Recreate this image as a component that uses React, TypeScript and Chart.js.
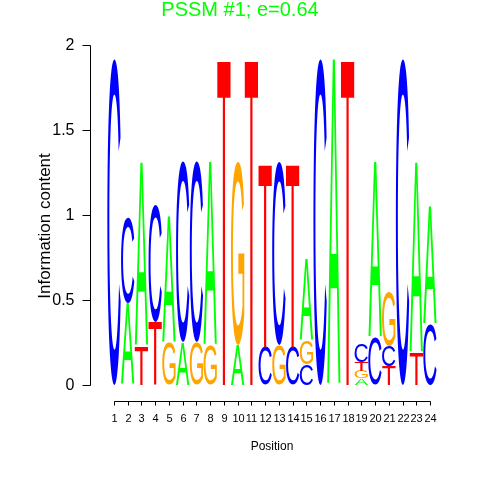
import React, { useEffect, useRef } from "react";
import { Chart, registerables } from "chart.js";

Chart.register(...registerables);

const TITLE = "PSSM #1; e=0.64";
const X_TITLE = "Position";
const Y_TITLE = "Information content";
const POSITIONS = ["1","2","3","4","5","6","7","8","9","10","11","12","13","14","15","16","17","18","19","20","21","22","23","24"];
const LETTERS = ["A", "C", "G", "T"];
const LETTER_COLORS: Record<string, string> = { A: "#00FF00", C: "#0000FF", G: "#FFA500", T: "#FF0000" };

// information content (bits) of each letter at each position
const A_BITS = [0, 0.48, 1.08, 0, 0.74, 0.25, 0, 1.08, 0, 0.235, 0, 0, 0, 0, 0.48, 0, 1.92, 0, 0.04, 1.03, 0, 0, 1.12, 0.69];
const C_BITS = [1.92, 0.5, 0, 0.69, 0, 1.06, 1.06, 0, 0, 0, 0, 0.22, 1.08, 0.22, 0.12, 1.92, 0, 0, 0.105, 0.28, 0.12, 1.92, 0, 0.36];
const G_BITS = [0, 0, 0, 0, 0.25, 0, 0.25, 0.235, 0, 1.08, 0, 0, 0.235, 0, 0.14, 0, 0, 0, 0.045, 0, 0.32, 0, 0, 0];
const T_BITS = [0, 0, 0.23, 0.37, 0, 0, 0, 0, 1.92, 0, 1.92, 1.08, 0, 1.08, 0, 0, 0, 1.92, 0.05, 0, 0.11, 0, 0.19, 0];

const Y_TICKS = [0, 0.5, 1, 1.5, 2];
const Y_TICK_LABELS = ["0", "0.5", "1", "1.5", "2"];

const FONT = "'Liberation Sans', Arial, Helvetica, sans-serif";

const BITS: Record<string, number[]> = { A: A_BITS, C: C_BITS, G: G_BITS, T: T_BITS };

const glyphCache: Record<string, { l: number; r: number; a: number; d: number }> = {};

function drawGlyph(ctx: CanvasRenderingContext2D, letter: string, x: number, y: number, w: number, h: number, color: string) {
  ctx.save();
  ctx.font = "200px " + FONT;
  let g = glyphCache[letter];
  if (!g) {
    const m = ctx.measureText(letter);
    g = { l: m.actualBoundingBoxLeft, r: m.actualBoundingBoxRight, a: m.actualBoundingBoxAscent, d: m.actualBoundingBoxDescent };
    glyphCache[letter] = g;
  }
  const gw = g.l + g.r;
  const gh = g.a + g.d;
  ctx.translate(x, y);
  ctx.scale(w / gw, h / gh);
  ctx.fillStyle = color;
  ctx.textAlign = "left";
  ctx.textBaseline = "alphabetic";
  ctx.fillText(letter, g.l, g.a);
  ctx.restore();
}

const logoPlugin = {
  id: "logoPlugin",
  afterDatasetsDraw(chart: any) {
    const ctx: CanvasRenderingContext2D = chart.ctx;
    chart.data.datasets.forEach((ds: any, di: number) => {
      const meta = chart.getDatasetMeta(di);
      meta.data.forEach((el: any, i: number) => {
        const v = ds.data[i];
        if (!v) return;
        const p = el.getProps(["x", "y", "base", "width"], true);
        const top = Math.min(p.y, p.base);
        const bottom = Math.max(p.y, p.base);
        const letter = ds.letters[i];
        drawGlyph(ctx, letter, p.x - p.width / 2, top, p.width, bottom - top, LETTER_COLORS[letter]);
      });
    });
  },
  afterDraw(chart: any) {
    const ctx: CanvasRenderingContext2D = chart.ctx;
    const xs = chart.scales.x;
    const ys = chart.scales.y;
    const area = chart.chartArea;
    ctx.save();
    ctx.strokeStyle = "#000000";
    ctx.fillStyle = "#000000";
    ctx.lineWidth = 1;

    // Y axis
    const yAxisX = Math.round(area.left - 17) + 0.5;
    const y0 = ys.getPixelForValue(Y_TICKS[0]);
    const y1 = ys.getPixelForValue(Y_TICKS[Y_TICKS.length - 1]);
    ctx.beginPath();
    ctx.moveTo(yAxisX, Math.round(y0) + 0.5);
    ctx.lineTo(yAxisX, Math.round(y1) + 0.5);
    ctx.stroke();
    ctx.font = "16px " + FONT;
    ctx.textAlign = "right";
    ctx.textBaseline = "middle";
    Y_TICKS.forEach((t, i) => {
      const py = Math.round(ys.getPixelForValue(t)) + 0.5;
      ctx.beginPath();
      ctx.moveTo(yAxisX - 8, py);
      ctx.lineTo(yAxisX, py);
      ctx.stroke();
      ctx.fillText(Y_TICK_LABELS[i], yAxisX - 16, py + 0.5);
    });

    // X axis
    const xAxisY = Math.round(area.bottom + 16) + 0.5;
    const xFirst = xs.getPixelForValue(0);
    const xLast = xs.getPixelForValue(POSITIONS.length - 1);
    ctx.beginPath();
    ctx.moveTo(Math.round(xFirst) + 0.5, xAxisY);
    ctx.lineTo(Math.round(xLast) + 0.5, xAxisY);
    ctx.stroke();
    ctx.font = "11px " + FONT;
    ctx.textAlign = "center";
    ctx.textBaseline = "middle";
    POSITIONS.forEach((lab, i) => {
      const px = Math.round(xs.getPixelForValue(i)) + 0.5;
      ctx.beginPath();
      ctx.moveTo(px, xAxisY);
      ctx.lineTo(px, xAxisY + 4);
      ctx.stroke();
      ctx.fillText(lab, px, xAxisY + 17);
    });

    // axis titles
    ctx.font = "12px " + FONT;
    ctx.fillText(X_TITLE, (xFirst + xLast) / 2, area.bottom + 62);
    ctx.save();
    ctx.font = "17px " + FONT;
    ctx.translate(50, 226);
    ctx.rotate(-Math.PI / 2);
    ctx.textAlign = "center";
    ctx.textBaseline = "alphabetic";
    ctx.fillText(Y_TITLE, 0, 0);
    ctx.restore();

    // main title
    ctx.font = "20px " + FONT;
    ctx.fillStyle = "#00FF00";
    ctx.textAlign = "center";
    ctx.textBaseline = "alphabetic";
    ctx.fillText(TITLE, 240, 15.5);
    ctx.restore();
  },
};

export default function App() {
  const canvasRef = useRef<HTMLCanvasElement | null>(null);

  useEffect(() => {
    if (!canvasRef.current) return;
    const order = POSITIONS.map((_, i) =>
      LETTERS.map((l) => ({ l, v: BITS[l][i] })).sort((a, b) => a.v - b.v)
    );
    const datasets = LETTERS.map((_, k) => ({
      label: "layer" + k,
      data: order.map((o) => o[k].v),
      letters: order.map((o) => o[k].l),
      backgroundColor: "rgba(0,0,0,0)",
      borderWidth: 0,
      barPercentage: 0.97,
      categoryPercentage: 1,
      stack: "logo",
    }));
    const colW = (430 - 114) / 23;
    const left = 114 - colW / 2;
    const right = left + colW * 24;
    const chart = new Chart(canvasRef.current, {
      type: "bar",
      data: { labels: POSITIONS, datasets: datasets as any },
      options: {
        animation: false,
        responsive: true,
        maintainAspectRatio: false,
        layout: { padding: { left, right: 480 - right, top: 45, bottom: 95 } },
        plugins: { legend: { display: false }, tooltip: { enabled: false }, title: { display: false } },
        scales: {
          x: { display: false, stacked: true },
          y: { display: false, stacked: true, min: 0, max: 2 },
        },
      },
      plugins: [logoPlugin],
    });
    return () => chart.destroy();
  }, []);

  return (
    <div style={{ position: "absolute", left: 0, top: 0, width: 480, height: 480, background: "#ffffff" }}>
      <canvas ref={canvasRef} />
    </div>
  );
}
